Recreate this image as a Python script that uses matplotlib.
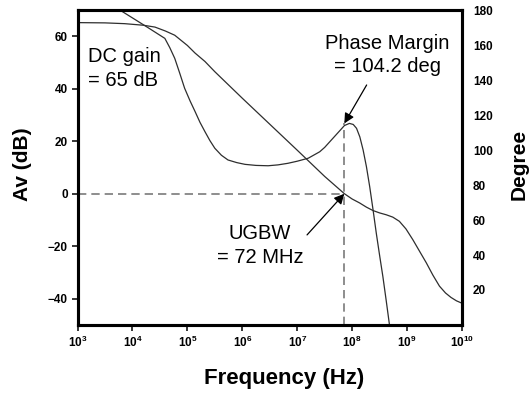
import numpy as np
import matplotlib
matplotlib.use("Agg")
import matplotlib.pyplot as plt
from matplotlib.ticker import FixedLocator, NullLocator

plt.rcParams['font.family'] = ['Liberation Sans', 'DejaVu Sans']
plt.rcParams['mathtext.fontset'] = 'custom'
plt.rcParams['mathtext.rm'] = 'Liberation Sans'
plt.rcParams['mathtext.bf'] = 'Liberation Sans:bold'

# gain curve (log10 of frequency in Hz, dB)
gain_logf = [3.0, 3.5, 3.86, 4.2, 4.41, 4.6, 4.77, 5.0, 5.14, 5.32, 5.5, 6.0,
             6.5, 7.0, 7.5, 7.86, 8.0, 8.136, 8.26, 8.38, 8.5, 8.62, 8.74, 8.86,
             8.98, 9.105, 9.23, 9.35, 9.47, 9.59, 9.7, 9.8, 9.9, 10.0]
gain_db = [65.2, 65.1, 64.8, 64.2, 63.5, 62.0, 60.4, 56.5, 53.6, 50.4, 46.5, 36.4,
           26.5, 16.6, 6.6, 0.0, -2.0, -3.5, -5.1, -6.4, -7.3, -8.0, -8.9, -10.5,
           -13.4, -17.5, -22.0, -26.3, -31.0, -35.2, -37.8, -39.5, -40.8, -41.7]

# phase curve (log10 of frequency in Hz, degrees)
phase_logf = [3.77, 4.0, 4.3, 4.59, 4.68, 4.77, 4.86, 4.95, 5.05, 5.14, 5.23, 5.32,
              5.41, 5.5, 5.62, 5.74, 5.9, 6.05, 6.25, 6.47, 6.65, 6.83, 7.0, 7.2,
              7.41, 7.5, 7.65, 7.78, 7.86, 7.95, 8.02, 8.08, 8.14, 8.2, 8.26, 8.32,
              8.38, 8.44, 8.5, 8.56, 8.62, 8.68]
phase_deg = [180, 175.5, 169.6, 163.8, 158.5, 152.4, 144.0, 135.3, 128.0, 122.0, 115.8, 110.5,
             105.4, 101.0, 97.0, 94.3, 92.8, 91.8, 91.2, 91.0, 91.5, 92.4, 93.6, 95.3,
             99.0, 101.5, 106.7, 111.2, 114.0, 115.2, 114.6, 112.4, 107.5, 100.0, 90.5, 79.0,
             66.0, 52.4, 39.8, 27.6, 14.0, 0.0]

ugbw_hz = 7.2e7
pm_deg = 115.2

freq_ticks = [1e3, 1e4, 1e5, 1e6, 1e7, 1e8, 1e9, 1e10]
freq_labels = [r'$\mathbf{10^{%d}}$' % int(np.log10(f)) for f in freq_ticks]
gain_ticks = [-40, -20, 0, 20, 40, 60]
phase_ticks = [20, 40, 60, 80, 100, 120, 140, 160, 180]

fig = plt.figure(figsize=(5.32, 3.96), dpi=100)
ax = fig.add_axes([0.1457, 0.1793, 0.7227, 0.7954])
ax2 = ax.twinx()

curve_col = '#2e2e2e'
dash_col = '#7a7a7a'

ax.plot(10 ** np.array(gain_logf), gain_db, color=curve_col, lw=0.9)
ax2.plot(10 ** np.array(phase_logf), phase_deg, color=curve_col, lw=0.9)

# dashed guide lines
ax.plot([1e3, ugbw_hz], [0, 0], color=dash_col, lw=1.2, ls=(0, (5, 3)))
ax2.plot([ugbw_hz, ugbw_hz], [0, pm_deg], color=dash_col, lw=1.2, ls=(0, (5, 3)))

ax.set_xscale('log')
ax.set_xlim(1e3, 1e10)
ax.set_ylim(-50, 70)
ax2.set_ylim(0, 180)

ax.xaxis.set_major_locator(FixedLocator(freq_ticks))
ax.xaxis.set_minor_locator(NullLocator())
ax.set_xticklabels(freq_labels)
ax.set_yticks(gain_ticks)
ax2.set_yticks(phase_ticks)

ax.tick_params(axis='both', direction='out', length=4, width=1.1, pad=3,
               labelsize=8.5, colors='black')
ax2.tick_params(axis='y', length=0, pad=8, labelsize=8.5)
for lab in ax.get_yticklabels() + ax2.get_yticklabels():
    lab.set_fontweight('bold')

for a in (ax, ax2):
    for s in a.spines.values():
        s.set_linewidth(2.2)

ax.set_xlabel('Frequency (Hz)', fontsize=16, fontweight='bold')
ax.set_ylabel('Av (dB)', fontsize=15, fontweight='bold')
ax2.set_ylabel('Degree', fontsize=15, fontweight='bold', rotation=90)
ax.xaxis.set_label_coords(0.538, -0.138)
ax.yaxis.set_label_coords(-0.118, 0.51)
ax2.yaxis.set_label_coords(1.124, 0.51)

ax.text(0.027, 0.882, 'DC gain\n= 65 dB', transform=ax.transAxes, fontsize=14.5,
        ha='left', va='top', linespacing=1.3)
ax.text(0.805, 0.924, 'Phase Margin\n= 104.2 deg', transform=ax.transAxes,
        fontsize=14.5, ha='center', va='top', linespacing=1.3)
ax.text(0.475, 0.32, 'UGBW\n= 72 MHz', transform=ax.transAxes, fontsize=14.5,
        ha='center', va='top', linespacing=1.3)

arrow = dict(arrowstyle='-|>', color='black', lw=0.9, mutation_scale=15,
             shrinkA=0, shrinkB=0)
ax2.annotate('', xy=(ugbw_hz, pm_deg), xycoords='data',
             xytext=(0.752, 0.762), textcoords='axes fraction', arrowprops=arrow)
ax.annotate('', xy=(ugbw_hz, 0), xycoords='data',
            xytext=(0.597, 0.286), textcoords='axes fraction', arrowprops=arrow)

fig.savefig('out.png', dpi=100)
